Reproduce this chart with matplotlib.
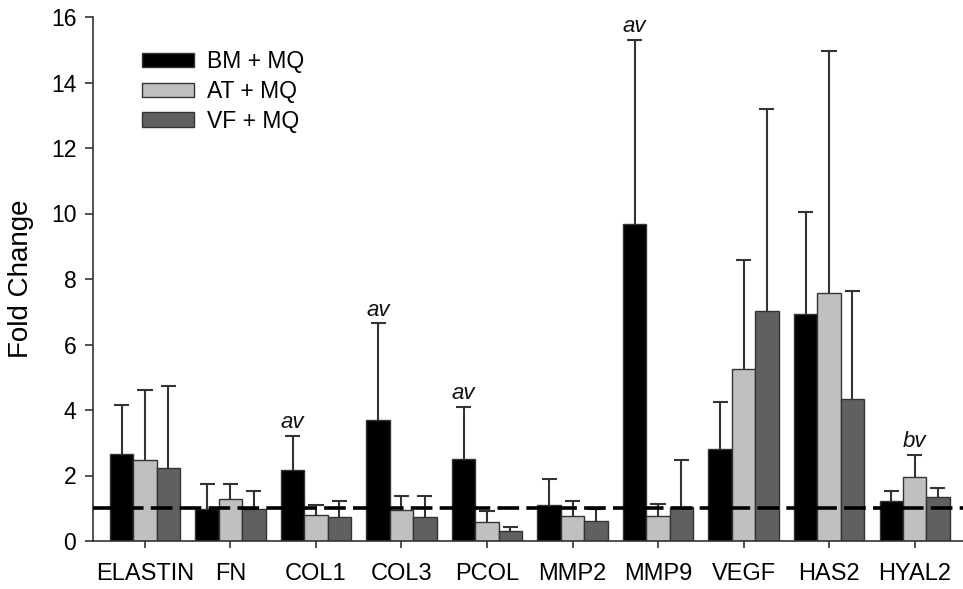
import matplotlib
matplotlib.use("Agg")
import matplotlib.pyplot as plt
import numpy as np

plt.rcParams['font.family'] = ['Liberation Sans', 'DejaVu Sans']

categories = ["ELASTIN", "FN", "COL1", "COL3", "PCOL", "MMP2", "MMP9", "VEGF", "HAS2", "HYAL2"]
series_names = ["BM + MQ", "AT + MQ", "VF + MQ"]

bm_vals = [2.65, 0.99, 2.18, 3.70, 2.51, 1.09, 9.69, 2.82, 6.92, 1.22]
bm_err_top = [4.14, 1.74, 3.22, 6.65, 4.09, 1.90, 15.31, 4.23, 10.04, 1.52]
at_vals = [2.46, 1.28, 0.78, 0.95, 0.58, 0.76, 0.76, 5.24, 7.58, 1.95]
at_err_top = [4.61, 1.74, 1.11, 1.37, 0.92, 1.21, 1.12, 8.57, 14.95, 2.63]
vf_vals = [2.22, 0.97, 0.72, 0.74, 0.31, 0.62, 1.03, 7.01, 4.33, 1.35]
vf_err_top = [4.74, 1.54, 1.22, 1.37, 0.43, 0.97, 2.47, 13.18, 7.64, 1.62]

# annotations: (category, series index, text)
annotations = [("COL1", 0, "av"), ("COL3", 0, "av"), ("PCOL", 0, "av"),
               ("MMP9", 0, "av"), ("HYAL2", 1, "bv")]

baseline = 1.0
yticks = [0, 2, 4, 6, 8, 10, 12, 14, 16]

colors = ["#000000", "#c0c0c0", "#606060"]
vals = [bm_vals, at_vals, vf_vals]
tops = [bm_err_top, at_err_top, vf_err_top]

fig = plt.figure(figsize=(9.63, 5.89), dpi=100)
ax = fig.add_axes([93/963, 1-541/589, 1-93/963, (541-17)/589])

x = np.arange(len(categories))
w = 0.273
cap_half = 0.088
edge = "#333333"
for i in range(3):
    pos = x + (i - 1) * w
    v = np.array(vals[i])
    t = np.array(tops[i])
    ax.bar(pos, v, width=w, color=colors[i], edgecolor=edge, linewidth=1.0,
           label=series_names[i], zorder=2)
    ax.vlines(pos, v, t, color=edge, lw=1.5, zorder=1)
    ax.hlines(t, pos - cap_half, pos + cap_half, color=edge, lw=1.5, zorder=1)

ax.axhline(baseline, color="black", lw=2.6, ls=(0, (6, 2)), zorder=4)

for cat, si, txt in annotations:
    ci = categories.index(cat)
    px = ci + (si - 1) * w
    ax.text(px, tops[si][ci] + 0.08, txt, ha='center', va='bottom',
            fontsize=16, style='italic', color='#111111')

ax.set_xlim(-0.608, 9.567)
ax.set_ylim(0, 16)
ax.set_yticks(yticks)
ax.set_xticks(x)
ax.set_xticklabels(categories, fontsize=17)
ax.tick_params(axis='y', labelsize=16.5, length=6, width=1.2, color=edge, pad=6)
ax.tick_params(axis='x', length=5, width=1.2, color=edge, pad=11)
ax.set_ylabel("Fold Change", fontsize=20, labelpad=12)

for s in ['top', 'right']:
    ax.spines[s].set_visible(False)
for s in ['left', 'bottom']:
    ax.spines[s].set_color(edge)
    ax.spines[s].set_linewidth(1.2)

leg = ax.legend(loc='upper left', bbox_to_anchor=((142-93)/870, 1-(50-17)/524),
                frameon=False, fontsize=16.5, handlelength=2.25, handleheight=0.6,
                handletextpad=0.6, labelspacing=0.3, borderpad=0, borderaxespad=0)

fig.savefig("out.png", dpi=100)
